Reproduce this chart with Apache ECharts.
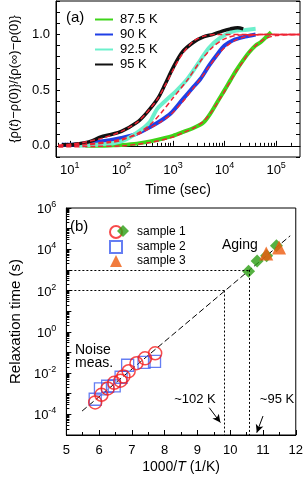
<!DOCTYPE html>
<html><head><meta charset="utf-8">
<script src="https://cdn.jsdelivr.net/npm/echarts@6/dist/echarts.min.js"></script>
<style>html,body{margin:0;padding:0;background:#fff}#c{width:306px;height:478px}</style>
</head><body><div id="c"></div><script>
// ---------- Panel (a) data: time (s) and normalized resistance ----------
const t875 = [20, 40, 70, 100, 200, 362, 700, 1000, 1600, 2500, 3900, 5300, 7600, 10000, 13000, 17000, 23000, 30000, 40000, 50000, 65000, 80000];
const v875 = [0.0, 0.0, 0.005, 0.008, 0.02, 0.04, 0.07, 0.09, 0.125, 0.16, 0.21, 0.29, 0.41, 0.50, 0.59, 0.68, 0.77, 0.84, 0.90, 0.93, 0.98, 1.02];
const t90 = [7, 10, 20, 40, 60, 100, 200, 362, 600, 900, 1500, 2500, 3400, 5000, 7200, 10000, 15000, 25000, 40000];
const v90 = [0.01, 0.01, 0.02, 0.04, 0.05, 0.07, 0.11, 0.17, 0.23, 0.29, 0.41, 0.53, 0.60, 0.72, 0.82, 0.90, 0.95, 0.98, 1.0];
const t925 = [15, 30, 60, 80, 100, 150, 250, 362, 490, 700, 1200, 1900, 3400, 5000, 8300, 15000, 25000, 40000];
const v925 = [0.0, 0.01, 0.02, 0.03, 0.04, 0.08, 0.15, 0.22, 0.33, 0.40, 0.50, 0.60, 0.77, 0.88, 0.97, 1.03, 1.04, 1.05];
const t95 = [7, 10, 15, 25, 40, 60, 100, 200, 300, 500, 700, 1000, 1500, 2500, 4000, 6000, 9000, 13000, 18000, 23000];
const v95 = [0.01, 0.01, 0.02, 0.04, 0.08, 0.10, 0.13, 0.21, 0.29, 0.42, 0.55, 0.70, 0.84, 0.93, 0.98, 1.0, 1.03, 1.05, 1.06, 1.05];
// fits (red dashed)
const tf875 = [6, 30, 100, 362, 1000, 1600, 2500, 3900, 5300, 7600, 10000, 13000, 17000, 23000, 30000, 40000, 60000, 100000, 290000];
const vf875 = [-0.01, -0.005, 0.0, 0.03, 0.08, 0.12, 0.16, 0.22, 0.29, 0.40, 0.49, 0.58, 0.67, 0.76, 0.84, 0.90, 0.96, 0.99, 1.0];
const tf90 = [6, 20, 60, 100, 200, 362, 600, 900, 1500, 2500, 3400, 5000, 7200, 10000, 15000, 25000, 50000, 290000];
const vf90 = [0.0, 0.015, 0.04, 0.06, 0.10, 0.16, 0.22, 0.28, 0.39, 0.52, 0.60, 0.71, 0.81, 0.88, 0.94, 0.98, 1.0, 1.0];
const tf925 = [6, 20, 60, 100, 200, 362, 600, 1000, 1900, 3400, 6000, 10000, 20000, 290000];
const vf925 = [0.0, 0.01, 0.03, 0.05, 0.11, 0.19, 0.30, 0.43, 0.59, 0.76, 0.89, 0.96, 0.995, 1.0];
const tf95 = [6, 10, 20, 40, 100, 200, 300, 500, 700, 1000, 1500, 2500, 4000, 7000, 290000];
const vf95 = [0.005, 0.015, 0.035, 0.065, 0.13, 0.21, 0.29, 0.42, 0.54, 0.68, 0.82, 0.94, 0.985, 1.0, 1.0];
const namesA = ['87.5 K', '90 K', '92.5 K', '95 K'];
const majorTicksA = [10, 100, 1000, 10000, 100000];
const yLabelsA = [0, 0.5, 1.0];

// ---------- Panel (b) data: 1000/T and relaxation time (s) ----------
const s1x = [5.88, 6.07, 6.26, 6.46, 6.65, 6.74, 6.90, 7.14, 7.40, 7.71];
const s1y = [3.8e-4, 8.9e-4, 1.8e-3, 3.4e-3, 4.3e-3, 6.9e-3, 1.23e-2, 3.0e-2, 5.2e-2, 9.1e-2];
const s2x = [5.88, 6.04, 6.26, 6.46, 6.67, 6.87, 7.37, 7.69];
const s2y = [5.4e-4, 1.7e-3, 2.3e-3, 2.4e-3, 6.3e-3, 2.4e-2, 3.3e-2, 3.7e-2];
const s1agx = [10.56, 10.82, 11.11, 11.41];
const s1agy = [870, 2700, 4800, 15000];
const s3x = [11.10, 11.49];
const s3y = [6300, 12300];
const fitBx = [5.48, 11.83];
const fitBy = [1.45e-4, 4.5e4];
const guideH1 = [[5, 1000], [10.57, 1000]];
const guideV1 = [[10.57, 1000], [10.57, 1e-5]];
const guideH2 = [[5, 100], [9.83, 100]];
const guideV2 = [[9.83, 100], [9.83, 1e-5]];
const arrow102 = [[9.36, 2.1e-4], [9.70, 4.0e-5]];
const arrow95 = [[11.00, 8.3e-5], [10.81, 1.3e-5]];
const majorTicksB = [1e-5, 1e-4, 1e-3, 1e-2, 1e-1, 1, 10, 100, 1e3, 1e4, 1e5, 1e6];
const yLabelsB = [1e-4, 1e-2, 1, 1e2, 1e4, 1e6];

const zip = (a, b) => a.map((x, i) => [x, b[i]]);
function minorsBetween(lo, hi) {
  const out = [];
  for (let n = -6; n <= 6; n++) for (let k = 2; k <= 9; k++) {
    const v = k * Math.pow(10, n);
    if (v > lo && v < hi) out.push(v);
  }
  return out;
}
const F = 'Liberation Sans, Arial, sans-serif';
const rich = {
  b: { fontSize: 13, fontFamily: F, color: '#000', verticalAlign: 'bottom' },
  s: { fontSize: 9, fontFamily: F, color: '#000', verticalAlign: 'bottom', padding: [0, 0, 7, 0] }
};
const pow10 = v => '{b|10}{s|' + Math.round(Math.log10(v)) + '}';

const xMinA = 5.4, xMaxA = 2.9e5;
const cols = { g: '#3fd41a', b: '#1f3fe6', c: '#6cf0cc', k: '#111111', r: '#ee2233' };

const chart = echarts.init(document.getElementById('c'), null, { renderer: 'canvas' });
const option = {
  animation: false,
  backgroundColor: '#fff',
  textStyle: { fontFamily: F },
  grid: [
    { left: 56, top: 1, width: 244, height: 156, show: true, borderColor: '#000', borderWidth: 1, containLabel: false },
    { left: 56, top: 208, width: 242, height: 227, show: true, borderColor: '#000', borderWidth: 1, containLabel: false }
  ],
  xAxis: [
    { gridIndex: 0, type: 'log', logBase: 10, min: xMinA, max: xMaxA, position: 'bottom',
      name: 'Time (sec)', nameLocation: 'middle', nameGap: 26,
      nameTextStyle: { fontSize: 14, fontFamily: F, color: '#000' },
      axisLine: { show: true, lineStyle: { color: '#000', width: 1 } },
      axisTick: { show: true, inside: true, length: 5, customValues: majorTicksA, lineStyle: { color: '#000' } },
      axisLabel: { show: true, margin: 4, customValues: majorTicksA, formatter: pow10, rich: rich },
      splitLine: { show: false } },
    { gridIndex: 0, type: 'log', logBase: 10, min: xMinA, max: xMaxA, position: 'bottom',
      axisLine: { show: false },
      axisTick: { show: true, inside: true, length: 3, customValues: minorsBetween(xMinA, xMaxA), lineStyle: { color: '#000' } },
      axisLabel: { show: false }, splitLine: { show: false } },
    { gridIndex: 1, type: 'value', min: 5, max: 12, interval: 1, position: 'bottom',
      name: '{n|1000/}{i|T}{n| (1/K)}', nameLocation: 'middle', nameGap: 25,
      nameTextStyle: { fontSize: 14, color: '#000', rich: {
        n: { fontSize: 14, fontFamily: F, color: '#000' },
        i: { fontSize: 14, fontFamily: F, color: '#000', fontStyle: 'italic' } } },
      axisLine: { show: true, lineStyle: { color: '#000', width: 1 } },
      axisTick: { show: true, inside: true, length: 5, lineStyle: { color: '#000' } },
      minorTick: { show: true, splitNumber: 2, length: 3, lineStyle: { color: '#000' } },
      axisLabel: { show: true, margin: 9, fontSize: 13, fontFamily: F, color: '#000' },
      splitLine: { show: false } }
  ],
  yAxis: [
    { gridIndex: 0, type: 'value', min: -0.1, max: 1.3, interval: 0.1, position: 'left',
      name: '{ρ({i|t})−ρ(0)}/{ρ(∞)−ρ(0)}', nameLocation: 'middle', nameGap: 34,
      nameTextStyle: { fontSize: 13, fontFamily: F, color: '#000', rich: {
        i: { fontSize: 13, fontFamily: F, color: '#000', fontStyle: 'italic' } } },
      axisLine: { show: true, lineStyle: { color: '#000', width: 1 } },
      axisTick: { show: true, inside: true, length: 4, lineStyle: { color: '#000' } },
      axisLabel: { show: true, margin: 6, fontSize: 13, fontFamily: F, color: '#000',
        customValues: yLabelsA, formatter: v => v.toFixed(1) },
      splitLine: { show: false } },
    { gridIndex: 0, type: 'value', min: -0.1, max: 1.3, interval: 0.1, position: 'right',
      axisLine: { show: false },
      axisTick: { show: true, inside: true, length: 4, lineStyle: { color: '#000' } },
      axisLabel: { show: false }, splitLine: { show: false } },
    { gridIndex: 1, type: 'log', logBase: 10, min: 1e-5, max: 1e6, position: 'left',
      name: 'Relaxation time (s)', nameLocation: 'middle', nameGap: 36,
      nameTextStyle: { fontSize: 15, fontFamily: F, color: '#000' },
      axisLine: { show: true, lineStyle: { color: '#000', width: 1 } },
      axisTick: { show: true, inside: true, length: 5, customValues: majorTicksB, lineStyle: { color: '#000' } },
      axisLabel: { show: true, margin: 10, customValues: yLabelsB, formatter: pow10, rich: rich },
      splitLine: { show: false } },
    { gridIndex: 1, type: 'log', logBase: 10, min: 1e-5, max: 1e6, position: 'left',
      axisLine: { show: false },
      axisTick: { show: true, inside: true, length: 3, customValues: minorsBetween(1e-5, 1e6), lineStyle: { color: '#000' } },
      axisLabel: { show: false }, splitLine: { show: false } }
  ],
  legend: [
    { orient: 'vertical', left: 90, top: 8, itemWidth: 18, itemHeight: 2, itemGap: 2, icon: 'rect',
      selectedMode: false, data: namesA,
      textStyle: { fontSize: 13, fontFamily: F, color: '#000', lineHeight: 12, padding: [0, 0, 0, 2] } },
    { orient: 'vertical', left: 104, top: 220, itemWidth: 12, itemHeight: 12, itemGap: 1,
      selectedMode: false, data: ['sample 1', 'sample 2', 'sample 3'],
      textStyle: { fontSize: 12, fontFamily: F, color: '#000', lineHeight: 12, padding: [0, 0, 0, 10] } },
    { orient: 'vertical', left: 112, top: 220, itemWidth: 12, itemHeight: 12,
      selectedMode: false, data: ['sample 1 aging'], formatter: () => '',
      textStyle: { fontSize: 12, lineHeight: 12 } }
  ],
  series: [
    { name: '87.5 K', type: 'line', xAxisIndex: 0, yAxisIndex: 0, data: zip(t875, v875), smooth: 0.3,
      showSymbol: false, color: cols.g, lineStyle: { width: 4, color: cols.g } },
    { name: '90 K', type: 'line', xAxisIndex: 0, yAxisIndex: 0, data: zip(t90, v90), smooth: 0.3,
      showSymbol: false, color: cols.b, lineStyle: { width: 4, color: cols.b } },
    { name: '92.5 K', type: 'line', xAxisIndex: 0, yAxisIndex: 0, data: zip(t925, v925), smooth: 0.3,
      showSymbol: false, color: cols.c, lineStyle: { width: 4, color: cols.c } },
    { name: '95 K', type: 'line', xAxisIndex: 0, yAxisIndex: 0, data: zip(t95, v95), smooth: 0.3,
      showSymbol: false, color: cols.k, lineStyle: { width: 3.5, color: cols.k } },
    ...[[tf875, vf875], [tf90, vf90], [tf925, vf925], [tf95, vf95]].map(([t, v], i) => ({
      name: 'fit' + i, type: 'line', xAxisIndex: 0, yAxisIndex: 0, data: zip(t, v), smooth: 0.3,
      showSymbol: false, z: 5, lineStyle: { width: 1.5, color: cols.r, type: [5, 3] } })),
    { name: 'fitB', type: 'line', xAxisIndex: 2, yAxisIndex: 2, data: zip(fitBx, fitBy), showSymbol: false,
      lineStyle: { width: 1, color: '#000', type: [6, 3] }, z: 1,
      markLine: { silent: true, symbol: ['none', 'none'], label: { show: false },
        lineStyle: { type: [2, 2], color: '#000', width: 1 },
        data: [guideH1, guideV1, guideH2, guideV2].map(g => [{ coord: g[0] }, { coord: g[1] }]) } },
    { name: 'sample 2', type: 'scatter', xAxisIndex: 2, yAxisIndex: 2, data: zip(s2x, s2y),
      symbol: 'rect', symbolSize: 12, itemStyle: { color: 'rgba(255,255,255,0)', borderColor: '#3f5ef0', borderWidth: 1.3 } },
    { name: 'sample 1', type: 'scatter', xAxisIndex: 2, yAxisIndex: 2, data: zip(s1x, s1y),
      symbol: 'circle', symbolSize: 13, itemStyle: { color: 'rgba(255,255,255,0)', borderColor: '#f51d1d', borderWidth: 1.5 } },
    { name: 'sample 1 aging', type: 'scatter', xAxisIndex: 2, yAxisIndex: 2, data: zip(s1agx, s1agy),
      symbol: 'diamond', symbolSize: 13, itemStyle: { color: '#2a9d12' } },
    { name: 'sample 3', type: 'scatter', xAxisIndex: 2, yAxisIndex: 2, data: zip(s3x, s3y),
      symbol: 'triangle', symbolSize: 14, itemStyle: { color: '#ee5a0c' },
      markLine: { silent: true, symbol: ['none', 'arrow'], symbolSize: [6, 8], label: { show: false },
        lineStyle: { type: 'solid', color: '#000', width: 1 },
        data: [arrow102, arrow95].map(g => [{ coord: g[0] }, { coord: g[1] }]) } }
  ],
  graphic: [
    { type: 'text', x: 66, y: 18, style: { text: '(a)', font: '15px ' + F, fill: '#000', verticalAlign: 'middle' } },
    { type: 'text', x: 70, y: 227, style: { text: '(b)', font: '15px ' + F, fill: '#000', verticalAlign: 'middle' } },
    { type: 'text', x: 222, y: 245, style: { text: 'Aging', font: '14px ' + F, fill: '#000', verticalAlign: 'middle' } },
    { type: 'text', x: 75, y: 350, style: { text: 'Noise', font: '14px ' + F, fill: '#000', verticalAlign: 'middle' } },
    { type: 'text', x: 75, y: 363, style: { text: 'meas.', font: '14px ' + F, fill: '#000', verticalAlign: 'middle' } },
    { type: 'text', x: 195, y: 399, style: { text: '~102 K', font: '13px ' + F, fill: '#000', align: 'center', verticalAlign: 'middle' } },
    { type: 'text', x: 277, y: 399, style: { text: '~95 K', font: '13px ' + F, fill: '#000', align: 'center', verticalAlign: 'middle' } }
  ]
};
chart.setOption(option);
</script></body></html>
